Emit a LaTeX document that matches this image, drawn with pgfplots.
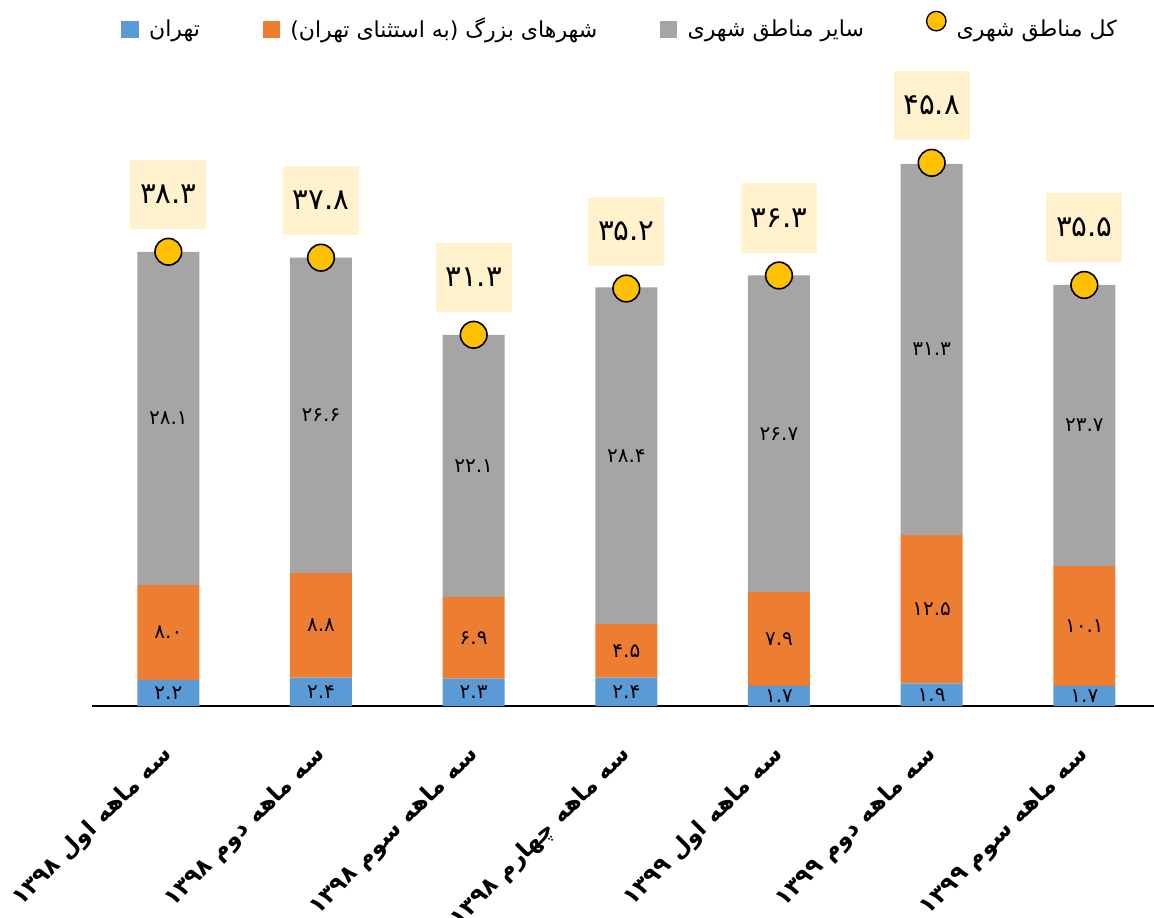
\documentclass[border=0pt]{standalone}
\usepackage{fontspec}
\usepackage{pgfplots}
\usepackage{pgfplotstable}
\pgfplotsset{compat=1.18}
\TeXXeTstate=1
\newfontfamily\persian[Script=Arabic]{DejaVu Sans}
\definecolor{cT}{HTML}{5B9BD5}
\definecolor{cB}{HTML}{ED7D31}
\definecolor{cO}{HTML}{A5A5A5}
\definecolor{cY}{HTML}{FFC000}
\definecolor{cBox}{HTML}{FFF2CC}

\pgfplotstableread{
x t b o tot tl bl ol totl
0 2.2 8.0 28.1 38.3 ۲.۲ ۸.۰ ۲۸.۱ ۳۸.۳
1 2.4 8.8 26.6 37.8 ۲.۴ ۸.۸ ۲۶.۶ ۳۷.۸
2 2.3 6.9 22.1 31.3 ۲.۳ ۶.۹ ۲۲.۱ ۳۱.۳
3 2.4 4.5 28.4 35.2 ۲.۴ ۴.۵ ۲۸.۴ ۳۵.۲
4 1.7 7.9 26.7 36.3 ۱.۷ ۷.۹ ۲۶.۷ ۳۶.۳
5 1.9 12.5 31.3 45.8 ۱.۹ ۱۲.۵ ۳۱.۳ ۴۵.۸
6 1.7 10.1 23.7 35.5 ۱.۷ ۱۰.۱ ۲۳.۷ ۳۵.۵
}\data

\pgfplotsset{
  base/.style={width=801.5pt, height=444.75pt, scale only axis,
    xmin=-0.5, xmax=6.5, ymin=0, ymax=50, at={(0,0)}, anchor=south west},
  seg/.style={nodes near coords={\persian\fontsize{15}{17}\selectfont\pgfplotspointmeta},
    point meta=explicit symbolic,
    every node near coord/.append style={anchor=center, text=black}},
  sq/.style={/pgfplots/legend image code/.code={\fill[##1] (0pt,-6.4pt) rectangle (12.8pt,6.4pt);}}
}

\begin{document}
\begin{tikzpicture}
\begin{axis}[base, ybar stacked, bar width=46.5pt,
  axis y line=none, axis x line*=bottom,
  x axis line style={line width=1.2pt, -},
  xtick={0,...,6}, major tick length=0pt,
  xticklabels={
    {\beginR سه ماهه اول ۱۳۹۸\endR},
    {\beginR سه ماهه دوم ۱۳۹۸\endR},
    {\beginR سه ماهه سوم ۱۳۹۸\endR},
    {\beginR سه ماهه چهارم ۱۳۹۸\endR},
    {\beginR سه ماهه اول ۱۳۹۹\endR},
    {\beginR سه ماهه دوم ۱۳۹۹\endR},
    {\beginR سه ماهه سوم ۱۳۹۹\endR}},
  xticklabel style={xshift=3pt, yshift=-31pt, rotate=45, anchor=east,
    font=\persian\bfseries\fontsize{17.5}{20}\selectfont},
  legend style={at={(0.4945,1.145)}, anchor=center, draw=none,
    legend columns=4, font=\persian\fontsize{16.5}{19}\selectfont,
    /tikz/every odd column/.append style={column sep=6pt},
    /tikz/every even column/.append style={column sep=45pt}},
]
\addplot[fill=cT, draw=none, sq, seg] table[x=x, y=t, meta=tl] {\data};
\addlegendentry{\beginR تهران\endR}
\addplot[fill=cB, draw=none, sq, seg] table[x=x, y=b, meta=bl] {\data};
\addlegendentry{\beginR شهرهای بزرگ (به استثنای تهران)\endR}
\addplot[fill=cO, draw=none, sq, seg] table[x=x, y=o, meta=ol] {\data};
\addlegendentry{\beginR سایر مناطق شهری\endR}
\addlegendimage{only marks, mark=*, mark size=7.3pt, mark options={fill=cY, draw=black, line width=1pt}}
\addlegendentry{\beginR کل مناطق شهری\endR}
\end{axis}
\begin{axis}[base, hide axis]
\addplot[only marks, mark=*, mark size=10pt,
  mark options={fill=cY, draw=black, line width=1.2pt},
  nodes near coords={\persian\fontsize{22}{25}\selectfont\pgfplotspointmeta},
  point meta=explicit symbolic,
  every node near coord/.append style={fill=cBox, minimum width=57pt,
    minimum height=52pt, anchor=center, yshift=43pt, text=black}]
  table[x=x, y=tot, meta=totl] {\data};
\end{axis}
\pgfresetboundingbox
\path[use as bounding box] (-69pt,-159pt) rectangle (796.5pt,529.5pt);
\end{tikzpicture}
\end{document}
